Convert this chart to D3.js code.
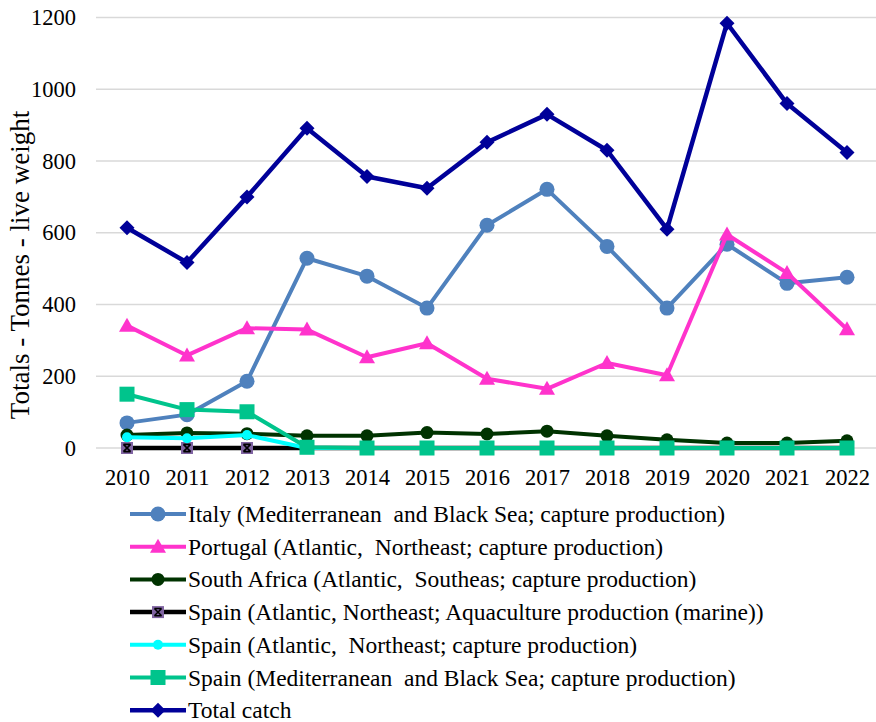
<!DOCTYPE html>
<html>
<head>
<meta charset="utf-8">
<script src="https://cdn.jsdelivr.net/npm/d3@7"></script>
<style>
  html, body { margin: 0; padding: 0; background: #ffffff; }
  svg { display: block; }
  svg text { font-family: "Liberation Serif", "Times New Roman", "DejaVu Serif", serif; }
</style>
</head>
<body>
<svg id="chart" width="876" height="722"></svg>
<script>
// Years on the category axis
const years = ["2010","2011","2012","2013","2014","2015","2016","2017","2018","2019","2020","2021","2022"];

// Catch per series, tonnes live weight
const italyMed      = [70, 93, 186, 529, 479, 390, 621, 721, 562, 390, 568, 459, 476];
const portugalAtl   = [341, 258, 334, 330, 253, 292, 193, 165, 237, 203, 595, 488, 331];
const southAfrica   = [36, 42, 40, 34, 34, 43, 39, 47, 34, 23, 14, 14, 20];
const spainAquacult = [0, 0, 0, 0, 0, 0, 0, 0, 0, 0, 0, 0, 0];
const spainAtlCapt  = [30, 27, 36, 0, 0, 0, 0, 0, 0, 0, 0, 0, 0];
const spainMedCapt  = [150, 107, 101, 2, 0, 0, 0, 0, 0, 0, 0, 0, 0];
const totalCatch    = [614, 517, 700, 891, 757, 724, 852, 930, 830, 610, 1184, 960, 824];

// Value axis ticks
const yTicks = [0, 200, 400, 600, 800, 1000, 1200];

const seriesNames = [
  "Italy (Mediterranean  and Black Sea; capture production)",
  "Portugal (Atlantic,  Northeast; capture production)",
  "South Africa (Atlantic,  Southeas; capture production)",
  "Spain (Atlantic, Northeast; Aquaculture production (marine))",
  "Spain (Atlantic,  Northeast; capture production)",
  "Spain (Mediterranean  and Black Sea; capture production)",
  "Total catch"
];

const series = [
  { name: seriesNames[0], values: italyMed,      color: "#4f81bd", marker: "circle",   size: 7.5, width: 4 },
  { name: seriesNames[1], values: portugalAtl,   color: "#ff33cc", marker: "triangle", size: 8,   width: 4 },
  { name: seriesNames[2], values: southAfrica,   color: "#003300", marker: "circle",   size: 6.5, width: 4 },
  { name: seriesNames[3], values: spainAquacult, color: "#000000", marker: "xsquare",  size: 6,   width: 4.5, fill: "#8064a2" },
  { name: seriesNames[4], values: spainAtlCapt,  color: "#00ffff", marker: "circle",   size: 5,   width: 4 },
  { name: seriesNames[5], values: spainMedCapt,  color: "#00c48c", marker: "square",   size: 7.5, width: 4 },
  { name: seriesNames[6], values: totalCatch,    color: "#000099", marker: "diamond",  size: 7.5, width: 4.5 }
];

const FONT = "'Liberation Serif', 'Times New Roman', 'DejaVu Serif', serif";
const svg = d3.select("#chart");
const plot = { left: 97, right: 877, top: 17.5, bottom: 448 };

const x = d3.scalePoint().domain(years).range([plot.left, plot.right]).padding(0.5);
const y = d3.scaleLinear().domain([0, 1200]).range([plot.bottom, plot.top]);

// Horizontal gridlines
svg.append("g")
  .selectAll("line")
  .data(yTicks)
  .join("line")
  .attr("x1", 96).attr("x2", plot.right)
  .attr("y1", d => y(d)).attr("y2", d => y(d))
  .attr("stroke", "#d9d9d9").attr("stroke-width", 1.5);

// Y axis labels
const yAxis = d3.axisLeft(y).tickValues(yTicks).tickSize(0).tickPadding(0).tickFormat(d3.format("d"));
const gy = svg.append("g").attr("transform", "translate(76,0)").call(yAxis)
  .attr("font-family", null).attr("font-size", null);
gy.select(".domain").remove();
gy.selectAll("text").style("font-size", "22.5px").style("font-family", FONT).attr("fill", "#000");

// X axis labels
const xAxis = d3.axisBottom(x).tickSize(0).tickPadding(0);
const gx = svg.append("g").attr("transform", `translate(0,${plot.bottom + 21})`).call(xAxis)
  .attr("font-family", null).attr("font-size", null);
gx.select(".domain").remove();
gx.selectAll("text").style("font-size", "22.5px").style("font-family", FONT).attr("fill", "#000");

// Y axis title
svg.append("text")
  .attr("transform", "translate(28.5,265) rotate(-90)")
  .attr("text-anchor", "middle")
  .style("font-size", "27px").style("font-family", FONT)
  .text("Totals - Tonnes - live weight");

function drawMarker(g, s, cx, cy) {
  const r = s.size;
  if (s.marker === "circle") {
    g.append("circle").attr("cx", cx).attr("cy", cy).attr("r", r).attr("fill", s.color);
  } else if (s.marker === "triangle") {
    g.append("path")
      .attr("d", `M${cx},${cy - r} L${cx + r},${cy + r * 0.75} L${cx - r},${cy + r * 0.75} Z`)
      .attr("fill", s.color);
  } else if (s.marker === "square") {
    g.append("rect").attr("x", cx - r).attr("y", cy - r).attr("width", 2 * r).attr("height", 2 * r)
      .attr("fill", s.color);
  } else if (s.marker === "diamond") {
    g.append("path")
      .attr("d", `M${cx},${cy - r} L${cx + r},${cy} L${cx},${cy + r} L${cx - r},${cy} Z`)
      .attr("fill", s.color);
  } else if (s.marker === "xsquare") {
    g.append("rect").attr("x", cx - r).attr("y", cy - r).attr("width", 2 * r).attr("height", 2 * r)
      .attr("fill", s.fill);
    const k = r * 0.6;
    g.append("path")
      .attr("d", `M${cx - k},${cy - k} L${cx + k},${cy + k} M${cx + k},${cy - k} L${cx - k},${cy + k} M${cx - k},${cy - k} L${cx + k},${cy - k} M${cx - k},${cy + k} L${cx + k},${cy + k}`)
      .attr("stroke", "#000").attr("stroke-width", 1.6).attr("fill", "none");
  }
}

// Series lines with markers
const line = d3.line().x((d, i) => x(years[i])).y(d => y(d));
series.forEach(s => {
  const g = svg.append("g");
  g.append("path").datum(s.values)
    .attr("d", line)
    .attr("fill", "none")
    .attr("stroke", s.color)
    .attr("stroke-width", s.width)
    .attr("stroke-linejoin", "round");
  s.values.forEach((v, i) => drawMarker(g, s, x(years[i]), y(v)));
});

// Legend
const legendTop = 514, legendStep = 32.7;
series.forEach((s, i) => {
  const cy = legendTop + i * legendStep;
  const g = svg.append("g");
  g.append("line").attr("x1", 130).attr("x2", 186).attr("y1", cy).attr("y2", cy)
    .attr("stroke", s.color).attr("stroke-width", s.width);
  drawMarker(g, s, 158, cy);
  g.append("text").attr("x", 188).attr("y", cy + 8)
    .style("font-size", "23.5px").style("font-family", FONT).attr("fill", "#000")
    .style("white-space", "pre")
    .text(s.name);
});
</script>
</body>
</html>
